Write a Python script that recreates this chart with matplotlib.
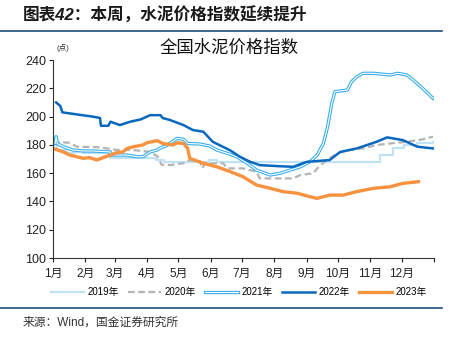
import numpy as np
import matplotlib
matplotlib.use("Agg")
import matplotlib.pyplot as plt
import matplotlib.patheffects as pe
from matplotlib.lines import Line2D

plt.rcParams['font.family'] = ['Liberation Sans', 'Noto Sans CJK SC', 'DejaVu Sans']

# 数据 (日序号, 指数)
days_2019 = [1, 5, 14, 22, 30, 45, 56, 80, 100, 107, 150, 158, 312, 314, 324, 327, 337, 350, 365]
vals_2019 = [180, 176.5, 174, 175, 174, 174, 170.5, 170.5, 169, 168, 169.3, 168, 168, 172.8, 172.8, 177.5, 180, 181.5, 182]

days_2020 = [1, 17, 24, 46, 62, 78, 94, 101, 105, 113, 126, 132, 142, 144, 147, 164, 168, 183, 196, 199, 231, 238, 250, 257, 266, 273, 286, 298, 311, 324, 340, 355, 365]
vals_2020 = [182.2, 181.5, 178.7, 178.3, 176.4, 176.4, 175, 172, 166, 165.7, 167, 169.3, 168, 163.4, 167, 167, 163.4, 163.4, 161, 156.3, 156.3, 158.7, 159.9, 165.7, 170.5, 174, 176.4, 177.5, 179.9, 181, 182.2, 183.9, 185.8]

days_2021 = [3, 4, 5, 11, 20, 30, 39, 56, 57, 72, 82, 87, 94, 101, 104, 110, 113, 120, 126, 130, 142, 151, 158, 168, 177, 187, 196, 209, 218, 228, 238, 247, 254, 260, 264, 268, 271, 283, 287, 292, 298, 308, 324, 331, 340, 346, 355, 365]
vals_2021 = [181, 185.8, 181, 178.7, 176.4, 175.7, 175.7, 175, 172.8, 172.8, 171.6, 171.6, 175, 176.5, 178, 179.5, 181.1, 184.6, 184, 181, 180.6, 179.2, 176.4, 174, 171.6, 167, 162.2, 158.7, 159.9, 162.2, 164.5, 168, 172.8, 181, 192.8, 209.4, 217.6, 218.8, 224.7, 228.2, 230.6, 230.6, 229.4, 230.6, 229.4, 225.9, 220, 212.9]

days_2022 = [4, 8, 10, 29, 39, 46, 47, 54, 56, 65, 75, 85, 94, 104, 106, 113, 126, 135, 145, 154, 171, 180, 190, 199, 216, 231, 244, 266, 276, 292, 311, 321, 336, 350, 365]
vals_2022 = [210, 207.5, 203, 201, 200, 199, 193.5, 193.5, 196.4, 194, 196.4, 198, 201, 201, 199, 197.6, 194, 190.5, 189.3, 182.2, 176, 171.6, 168, 165.7, 165, 164.5, 168, 169.3, 175, 177.5, 182.2, 185.3, 183.4, 178.7, 177.5]

days_2023 = [1, 11, 17, 30, 36, 43, 49, 56, 62, 68, 72, 78, 87, 91, 101, 106, 116, 120, 126, 130, 132, 145, 158, 171, 183, 196, 209, 221, 235, 247, 254, 266, 279, 292, 308, 324, 336, 351]
vals_2023 = [177.5, 175, 172.8, 170.5, 171, 169.3, 171, 172.8, 174.5, 175, 177.5, 178.7, 179.9, 181.5, 183, 181, 179.9, 181.5, 181, 177.5, 170.5, 167, 164.5, 161, 157.5, 151.6, 149.3, 147, 145.8, 143.4, 142.2, 144.5, 144.5, 147, 149.3, 150.4, 152.8, 154]

month_ticks = [1, 32, 60, 91, 121, 152, 182, 213, 244, 274, 305, 335]
month_labels = ["1月", "2月", "3月", "4月", "5月", "6月", "7月", "8月", "9月", "10月", "11月", "12月"]

c2019 = "#bfe2f6"
c2020 = "#b4b4b4"
c2021 = "#3aaee8"
c2022 = "#0868bd"
c2023 = "#f7923f"

fig = plt.figure(figsize=(4.51, 3.40), dpi=100)
ax = fig.add_axes([0.1175, 0.241, 0.845, 0.5825])

ax.plot(days_2019, vals_2019, color=c2019, lw=1.6, drawstyle="steps-post")
ax.plot(days_2020, vals_2020, color=c2020, lw=1.6, ls=(0, (3, 1.6)))
double = [pe.Stroke(linewidth=2.4, foreground=c2021), pe.Normal()]
ax.plot(days_2021, vals_2021, color="white", lw=0.8, path_effects=double)
ax.plot(days_2022, vals_2022, color=c2022, lw=1.8)
ax.plot(days_2023, vals_2023, color=c2023, lw=2.4)

ax.set_xlim(1, 366)
ax.set_ylim(100, 240)
ax.set_yticks(np.arange(100, 241, 20))
ax.set_xticks(month_ticks + [366])
ax.set_xticklabels(month_labels + [""])
ax.tick_params(axis="both", length=3, width=0.8, colors="#222222", pad=2)
ax.tick_params(axis="y", labelsize=9)
ax.tick_params(axis="x", labelsize=8.5, pad=4)
for s in ["top", "right"]:
    ax.spines[s].set_visible(False)
for s in ["left", "bottom"]:
    ax.spines[s].set_linewidth(0.8)
    ax.spines[s].set_color("#333333")

ax.text(0.462, 1.06, "全国水泥价格指数", transform=ax.transAxes, ha="center", va="center", fontsize=12.5, color="#111111")
ax.text(0.01, 1.06, "(点)", transform=ax.transAxes, ha="left", va="center", fontsize=5.5, color="#333333")

handles = [
    Line2D([], [], color=c2019, lw=1.6),
    Line2D([], [], color=c2020, lw=1.6, ls=(0, (3, 1.6))),
    Line2D([], [], color="white", lw=0.8, path_effects=double),
    Line2D([], [], color=c2022, lw=1.8),
    Line2D([], [], color=c2023, lw=2.4),
]
fig.legend(handles, ["2019年", "2020年", "2021年", "2022年", "2023年"], loc="center",
           bbox_to_anchor=(0.53, 0.141), ncol=5, frameon=False, fontsize=7,
           handlelength=3.4, handletextpad=0.4, columnspacing=0.9)

fig.text(0.05, 0.955, "图表42：本周，水泥价格指数延续提升", fontsize=12, fontweight="bold",
         style="italic", color="#1a1a1a", ha="left", va="center")
fig.add_artist(Line2D([0.0, 0.98], [0.908, 0.908], color="#1f4e79", lw=1.2, transform=fig.transFigure))
fig.add_artist(Line2D([0.0, 0.98], [0.094, 0.094], color="#1f4e79", lw=1.2, transform=fig.transFigure))
fig.text(0.05, 0.05, "来源：Wind，国金证券研究所", fontsize=8.5, color="#333333", ha="left", va="center")

fig.savefig("out.png", dpi=100)
